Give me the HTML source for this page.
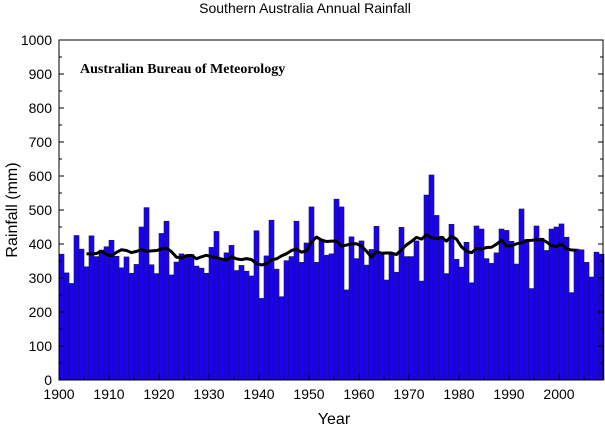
<!DOCTYPE html>
<html><head><meta charset="utf-8"><style>
body{margin:0;background:#fff;}
svg text{font-family:"Liberation Sans",Arial,sans-serif;}
</style></head><body>
<svg id="chart" width="605" height="427" xmlns="http://www.w3.org/2000/svg">
<text x="305" y="13" font-size="14" text-anchor="middle">Southern Australia Annual Rainfall</text>
<text x="334" y="424" font-size="16" text-anchor="middle">Year</text>
<text transform="translate(17,210) rotate(-90)" font-size="16" text-anchor="middle">Rainfall (mm)</text>
<g id="bars"></g>
<g id="axes"></g>
<text x="80" y="73" font-size="14" font-weight="bold" style="font-family:'Liberation Serif',serif">Australian Bureau of Meteorology</text>
</svg>
<script>
const startYear = 1900;
const rainfall = [370,315,284,425,385,333,424,363,382,392,
411,364,330,362,314,340,450,507,339,313,
431,467,309,347,371,363,369,335,329,314,
390,437,358,374,396,322,337,320,306,439,
240,365,470,326,245,351,363,467,346,403,
509,346,412,367,371,532,509,265,421,357,
409,338,384,452,369,294,369,317,449,363,
363,409,291,544,603,484,422,313,458,355,
332,405,286,453,444,357,343,374,444,440,
408,341,503,413,269,453,417,381,444,450,
459,420,257,385,383,346,303,376,370];
const yTicks = [0,100,200,300,400,500,600,700,800,900,1000];
const xTicks = [1900,1910,1920,1930,1940,1950,1960,1970,1980,1990,2000];
const windowYears = 11;
const lastMeanYear = 2003;

const NS="http://www.w3.org/2000/svg";
const L=59,R=603,T=40,B=380,yw=5;
const xs=y=>L+(y-startYear)*yw;
const ys=v=>B-v*(B-T)/1000;
const svg=document.getElementById('chart');
const bars=document.getElementById('bars');
const axes=document.getElementById('axes');
function mk(tag,attrs,parent){const e=document.createElementNS(NS,tag);for(const k in attrs)e.setAttribute(k,attrs[k]);parent.appendChild(e);return e;}
rainfall.forEach((v,i)=>{
  const r=mk('rect',{x:xs(startYear+i),y:ys(v),width:yw,height:B-ys(v),fill:'#1a00f5',stroke:'#1a1a40','stroke-width':0.6},bars);
  
  
});
// running mean
const half=(windowYears-1)/2;let pts=[];
for(let i=half;i<rainfall.length-half&&startYear+i<=lastMeanYear;i++){
  let s=0;for(let j=i-half;j<=i+half;j++)s+=rainfall[j];
  pts.push((xs(startYear+i)+yw/2)+','+ys(s/windowYears));
}
const pl=mk('polyline',{points:pts.join(' '),fill:'none',stroke:'#000','stroke-width':3,'stroke-linejoin':'round'},svg);


// frame
const fr=mk('rect',{x:L,y:T,width:R-L,height:B-T,fill:'none',stroke:'#000','stroke-width':1},axes);


for(let v=0;v<=1000;v+=50){
  const len=v%100===0?5:3;
  mk('line',{x1:L,x2:L+len,y1:ys(v),y2:ys(v),stroke:'#000'},axes);
  mk('line',{x1:R,x2:R-len,y1:ys(v),y2:ys(v),stroke:'#000'},axes);
}
yTicks.forEach(v=>{
  const t=mk('text',{x:52,y:ys(v)+5,'font-size':14,'text-anchor':'end'},axes);
  t.textContent=v;
  
  
});
for(let y=startYear;y<=2008;y++){
  const len=(y%10===0)?5:(y%5===0?3:0);
  if(len){mk('line',{x1:xs(y),x2:xs(y),y1:B,y2:B-len,stroke:'#000'},axes);}
}
xTicks.forEach(y=>{
  const t=mk('text',{x:xs(y),y:399,'font-size':14,'text-anchor':'middle'},axes);
  t.textContent=y;
  
  
});
</script>
</body></html>
